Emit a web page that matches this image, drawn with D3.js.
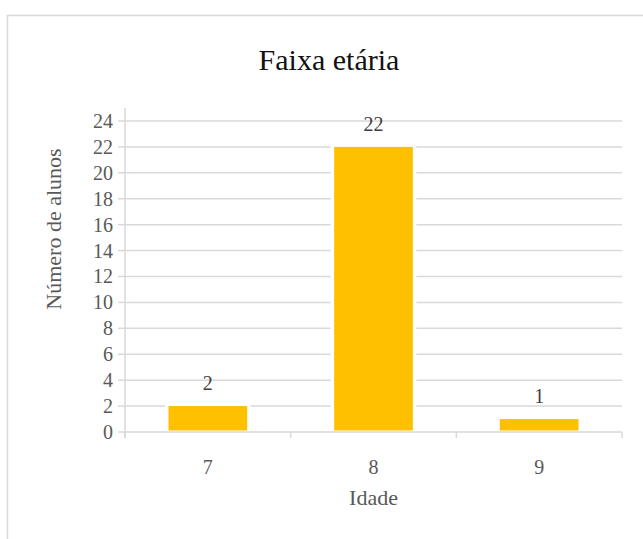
<!DOCTYPE html>
<html><head><meta charset="utf-8"><script src="https://cdn.jsdelivr.net/npm/d3@7"></script></head>
<body style="margin:0">
<script>
// data
const ages = ["7", "8", "9"];
const students = [2, 22, 1];
const yTicks = [0, 2, 4, 6, 8, 10, 12, 14, 16, 18, 20, 22, 24];

const gray = "#595959", grid = "#d9d9d9";
const serifFace = "Times New Roman, Tinos, serif";

const svg = d3.select("body").append("svg")
    .attr("width", 643)
    .attr("height", 539)
    .attr("font-family", serifFace);

// chart frame
svg.append("rect")
    .attr("x", 7.5).attr("y", 15.5)
    .attr("width", 700).attr("height", 600)
    .attr("fill", "none")
    .attr("stroke", grid)
    .attr("stroke-width", 1.5);

const plot = {left: 125, right: 622, top: 108, bottom: 432};

const x = d3.scaleBand().domain(ages).range([plot.left, plot.right]);
const y = d3.scaleLinear().domain([0, 25]).range([plot.bottom, plot.top]);

// gridlines
svg.append("g")
  .selectAll("line")
  .data(yTicks.filter(d => d > 0))
  .join("line")
    .attr("x1", plot.left).attr("x2", plot.right)
    .attr("y1", d => y(d)).attr("y2", d => y(d))
    .attr("stroke", grid).attr("stroke-width", 1.5);

// y axis ticks and labels
svg.append("g")
  .selectAll("line")
  .data(yTicks)
  .join("line")
    .attr("x1", plot.left - 7).attr("x2", plot.left)
    .attr("y1", d => y(d)).attr("y2", d => y(d))
    .attr("stroke", grid).attr("stroke-width", 1.5);
svg.append("line")
    .attr("x1", plot.left).attr("x2", plot.left)
    .attr("y1", plot.top).attr("y2", plot.bottom + 6)
    .attr("stroke", grid).attr("stroke-width", 1.5);
svg.append("g")
  .selectAll("text")
  .data(yTicks)
  .join("text")
    .attr("x", plot.left - 12)
    .attr("y", d => y(d) + 7)
    .attr("text-anchor", "end")
    .attr("fill", gray)
    .attr("font-family", serifFace)
    .attr("font-size", 20)
    .text(d => d);

// bars
const barW = x.bandwidth() * 0.475;
svg.append("g")
  .selectAll("rect")
  .data(students)
  .join("rect")
    .attr("x", (d, i) => x(ages[i]) + (x.bandwidth() - barW) / 2)
    .attr("y", d => y(d))
    .attr("width", barW)
    .attr("height", d => y(0) - y(d) - 1.5)
    .attr("fill", "#FFC000")
    .attr("stroke", "#fff")
    .attr("stroke-width", 7)
    .style("paint-order", "stroke");

// value labels
svg.append("g")
  .selectAll("text")
  .data(students)
  .join("text")
    .attr("x", (d, i) => x(ages[i]) + x.bandwidth() / 2)
    .attr("y", d => y(d) - 16)
    .attr("text-anchor", "middle")
    .attr("fill", "#404040")
    .attr("font-family", serifFace)
    .attr("font-size", 20)
    .text(d => d);

// x axis
svg.append("line")
    .attr("x1", plot.left).attr("x2", plot.right)
    .attr("y1", plot.bottom).attr("y2", plot.bottom)
    .attr("stroke", grid).attr("stroke-width", 1.5);
svg.append("g")
  .selectAll("line")
  .data([...ages.map(a => x(a)), plot.right])
  .join("line")
    .attr("x1", d => d).attr("x2", d => d)
    .attr("y1", plot.bottom).attr("y2", plot.bottom + 6)
    .attr("stroke", grid).attr("stroke-width", 1.5);
svg.append("g")
  .selectAll("text")
  .data(ages)
  .join("text")
    .attr("x", d => x(d) + x.bandwidth() / 2)
    .attr("y", plot.bottom + 42)
    .attr("text-anchor", "middle")
    .attr("fill", gray)
    .attr("font-family", serifFace)
    .attr("font-size", 20)
    .text(d => d);

// titles
svg.append("text")
    .attr("x", 329).attr("y", 70)
    .attr("text-anchor", "middle")
    .attr("fill", "#111")
    .attr("font-family", serifFace)
    .attr("font-size", 30)
    .text("Faixa etária");

svg.append("text")
    .attr("x", (plot.left + plot.right) / 2).attr("y", 505)
    .attr("text-anchor", "middle")
    .attr("fill", gray)
    .attr("font-family", serifFace)
    .attr("font-size", 22)
    .text("Idade");

svg.append("text")
    .attr("transform", "translate(61,229) rotate(-90)")
    .attr("text-anchor", "middle")
    .attr("fill", gray)
    .attr("font-family", serifFace)
    .attr("font-size", 22)
    .text("Número de alunos");
</script>
</body>
</html>
